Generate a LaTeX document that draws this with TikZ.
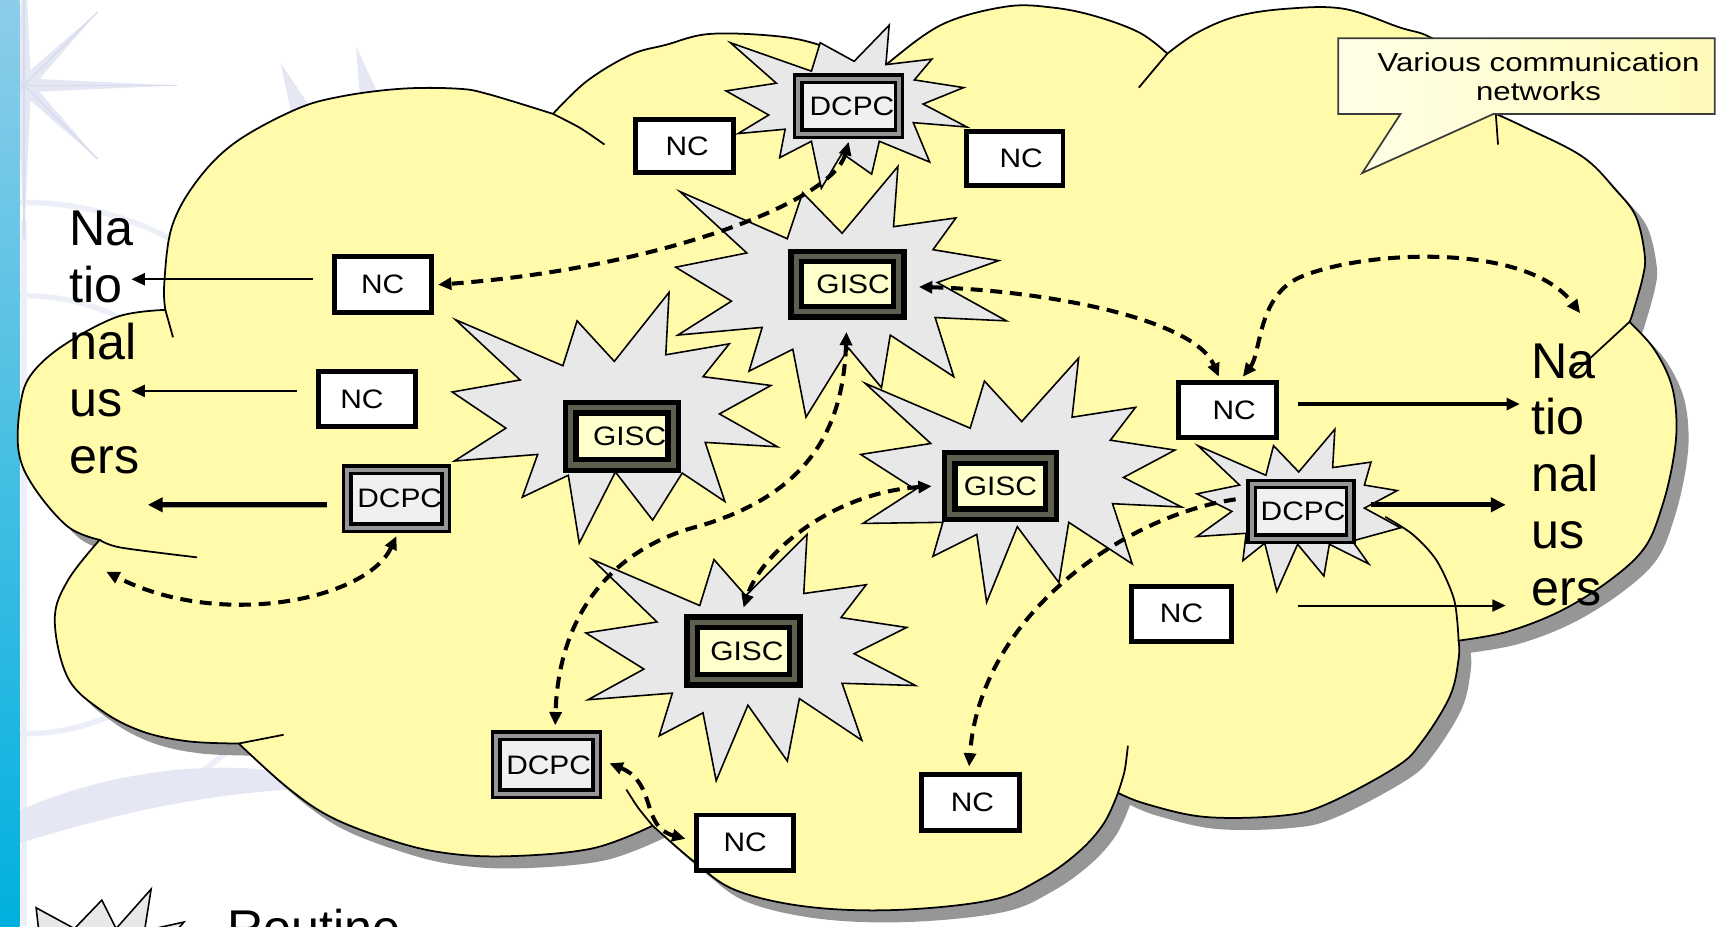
\documentclass[tikz,border=0pt]{standalone}
\usepackage{fontspec}
\setmainfont{Liberation Sans}
\usepackage{graphicx}
\usetikzlibrary{arrows.meta}

\newlength\pxu
\setlength\pxu{0.01095cm}

\definecolor{cloudfill}{RGB}{255,251,170}
\definecolor{cloudshadow}{RGB}{150,150,150}
\definecolor{burst}{RGB}{232,232,232}
\definecolor{dcpcfill}{RGB}{240,240,240}
\definecolor{dcpcgap}{RGB}{150,150,150}
\definecolor{giscfill}{RGB}{255,255,204}
\definecolor{giscgap}{RGB}{95,95,80}
\definecolor{noteL}{RGB}{255,255,232}
\definecolor{noteR}{RGB}{255,250,185}
\definecolor{noteEdge}{RGB}{60,60,60}
\definecolor{lav}{RGB}{229,232,244}
\definecolor{lavline}{RGB}{214,219,237}
\definecolor{globe}{RGB}{236,239,247}
\definecolor{stripTop}{RGB}{140,205,232}
\definecolor{stripMid}{RGB}{215,240,250}
\definecolor{stripBot}{RGB}{0,176,222}

\newcommand\boxfont{\fontsize{7.6pt}{9pt}\selectfont}
\newcommand\bigfont{\fontsize{14.3pt}{16.2pt}\selectfont}
\newcommand\notefont{\fontsize{7.4pt}{8.1pt}\selectfont}
\newcommand\wide[1]{\scalebox{1.12}[1]{#1}}

\tikzset{
  cloudpath/.style={insert path={
    (151,283)
    -- plot[smooth,tension=0.6] coordinates {(151,283) (150,259) (157,207) (180,165) (215,130) (270,100) (312,88) (367,81) (418,81) (446,86) (505,104)}
    -- plot[smooth,tension=0.6] coordinates {(505,104) (536,74) (576,50) (608,41) (648,31) (709,33) (748,41) (776,55) (805,66)}
    -- plot[smooth,tension=0.6] coordinates {(805,66) (813,56) (861,22) (919,6) (962,7) (1001,15) (1041,30) (1066,49)}
    -- plot[smooth,tension=0.6] coordinates {(1066,49) (1093,30) (1129,15) (1175,8) (1227,8) (1278,25) (1306,34) (1340,58) (1366,104)}
    -- plot[smooth,tension=0.6] coordinates {(1366,104) (1392,116) (1445,143) (1476,174) (1494,198) (1502,233) (1500,254) (1491,286) (1488,294)}
    -- plot[smooth,tension=0.6] coordinates {(1488,294) (1510,318) (1526,350) (1531,385) (1528,420) (1518,462) (1502,500) (1470,530) (1425,558) (1376,577) (1332,585)}
    -- plot[smooth,tension=0.6] coordinates {(1332,585) (1332,602) (1324,636) (1298,678) (1274,701) (1210,735) (1169,745) (1100,746) (1046,734) (1021,724)}
    -- plot[smooth,tension=0.6] coordinates {(1021,724) (1008,752) (985,778) (950,803) (905,822) (818,831) (737,828) (672,813) (634,787) (596,754)}
    -- plot[smooth,tension=0.6] coordinates {(596,754) (540,775) (460,782) (400,778) (350,765) (300,745) (261,718) (218,679)}
    -- plot[smooth,tension=0.6] coordinates {(218,679) (172,677) (130,668) (93,649) (62,619) (50,566) (62,530) (91,493)}
    -- plot[smooth,tension=0.6] coordinates {(91,493) (62,481) (31,445) (17,412) (19,367) (30,340) (60,314) (108,289) (151,283)}
    -- cycle}},
  cloudline/.style={draw=black, line width=0.5pt},
  burststyle/.style={fill=burst, draw=black, line width=0.45pt, line join=miter},
  ncbox/.style={draw=black, line width=1.4pt, fill=white, inner sep=0pt, font=\boxfont},
  dcpcbox/.style={draw=black, line width=1pt, double=dcpcgap, double distance=1.1pt,
    fill=dcpcfill, inner sep=0pt, font=\boxfont},
  giscbox/.style={draw=black, line width=1.5pt, double=giscgap, double distance=1.5pt,
    fill=giscfill, inner sep=0pt, font=\boxfont},
  bigtext/.style={font=\bigfont, align=left, inner sep=0pt},
  tipA/.tip={Triangle[length=3.8pt,width=3.4pt]},
  userthin/.style={line width=0.6pt, -tipA},
  usermed/.style={line width=0.9pt, -tipA},
  userthick/.style={line width=1.5pt, -{Triangle[length=4.2pt,width=4pt]}},
  feedline/.style={line width=1.15pt, dash pattern=on 3.4pt off 2.2pt, -tipA},
  feedboth/.style={line width=1.15pt, dash pattern=on 3.4pt off 2.2pt, tipA-tipA},
}

\begin{document}
\begin{tikzpicture}[x=0.01095cm, y=-0.01095cm]
\useasboundingbox (0,0) rectangle (1568,846);
\clip (0,0) rectangle (1568,846);
\fill[white] (0,0) rectangle (1568,846);

% faint background ornament: compass rose, globe lines, swoosh
\draw[globe, line width=5\pxu] (22,470) circle[radius=285];
\draw[globe, line width=5\pxu] (22,470) circle[radius=200];
\draw[globe, line width=5\pxu] (22,200) -- (22,846);
\begin{scope}[shift={(22,78)}]
  \fill[lav] (0:140) -- (22.5:15) -- (45:95) -- (67.5:15) -- (90:140) -- (112.5:15)
    -- (135:95) -- (157.5:15) -- (180:140) -- (202.5:15) -- (225:95) -- (247.5:15)
    -- (270:140) -- (292.5:15) -- (315:95) -- (337.5:15) -- cycle;
  \foreach \a/\r in {0/140,45/95,90/140,135/95,180/140,225/95,270/140,315/95}
    \draw[lavline, line width=0.4pt] (0,0) -- (\a:\r);
\end{scope}
\fill[lav] (256,57) -- (290,108) -- (268,112) -- cycle;
\fill[lav] (325,42) -- (352,100) -- (330,104) -- cycle;
\fill[lav] (18,740) .. controls (120,695) and (240,690) .. (320,720)
  .. controls (220,718) and (120,738) .. (18,770) -- cycle;

% side strip
\shade[top color=stripTop, middle color=stripMid, bottom color=stripBot] (0,0) rectangle (18,846);

% cloud with its shadow
\fill[cloudshadow, shift={(11,11)}, cloudpath];
\filldraw[fill=cloudfill, cloudline, cloudpath];
% inner lobe edges
\draw[cloudline] (151,283) -- (158,308);
\draw[cloudline] plot[smooth] coordinates {(505,104) (530,117) (552,132)};
\draw[cloudline] (1066,49) -- (1040,80);
\draw[cloudline] (1366,104) -- (1368,132);
\draw[cloudline] plot[smooth] coordinates {(1488,294) (1462,318) (1436,342)};
\draw[cloudline] plot[smooth] coordinates {(1332,585) (1328,548) (1312,512) (1290,488) (1265,472)};
\draw[cloudline] plot[smooth] coordinates {(1021,724) (1027,704) (1030,681)};
\draw[cloudline] plot[smooth] coordinates {(596,754) (583,738) (572,721)};
\draw[cloudline] plot[smooth] coordinates {(91,493) (110,500) (180,509)};
\draw[cloudline] (218,679) -- (259,671);

% bursts behind the centres
\filldraw[burststyle] (416,292) -- (514,334) -- (527,293) -- (561,330) -- (611,267) -- (608,324)
  -- (666,314) -- (642,344) -- (704,352) -- (657,378) -- (710,408) -- (644,404) -- (662,458)
  -- (623,432) -- (596,475) -- (562,431) -- (529,496) -- (519,434) -- (477,454) -- (491,415)
  -- (415,421) -- (462,391) -- (413,358) -- (475,347) -- cycle;
\filldraw[burststyle] (621,175) -- (719,218) -- (733,176) -- (769,213) -- (820,152) -- (816,207)
  -- (873,199) -- (852,228) -- (912,238) -- (856,258) -- (919,293) -- (854,290) -- (871,344)
  -- (813,306) -- (805,354) -- (775,318) -- (736,381) -- (724,319) -- (684,339) -- (696,299)
  -- (619,306) -- (668,275) -- (617,244) -- (682,231) -- cycle;
\filldraw[burststyle] (790,350) -- (886,391) -- (899,348) -- (933,385) -- (985,327) -- (979,381)
  -- (1037,372) -- (1014,402) -- (1073,411) -- (1026,436) -- (1079,463) -- (1016,460) -- (1034,515)
  -- (976,477) -- (967,532) -- (929,481) -- (901,550) -- (892,488) -- (852,508) -- (861,477)
  -- (788,478) -- (836,447) -- (786,415) -- (850,405) -- cycle;
\filldraw[burststyle] (541,511) -- (639,553) -- (652,511) -- (681,544) -- (737,488) -- (734,542)
  -- (791,534) -- (768,564) -- (828,573) -- (780,597) -- (836,626) -- (769,624) -- (787,676)
  -- (730,638) -- (719,695) -- (683,644) -- (654,713) -- (642,651) -- (602,672) -- (614,633)
  -- (537,639) -- (588,611) -- (535,578) -- (600,568) -- cycle;
\filldraw[burststyle] (667,39) -- (709,76) -- (663,83) -- (702,105) -- (674,122) -- (717,118)
  -- (712,144) -- (741,129) -- (750,172) -- (769,140) -- (796,159) -- (803,129) -- (849,148)
  -- (834,112) -- (883,116) -- (843,95) -- (880,80) -- (835,73) -- (851,54) -- (809,59)
  -- (812,23) -- (780,56) -- (749,39) -- (741,65) -- cycle;
\filldraw[burststyle] (1094,407) -- (1132,443) -- (1093,451) -- (1125,467) -- (1093,490)
  -- (1138,487) -- (1135,512) -- (1155,496) -- (1166,540) -- (1185,497) -- (1209,526)
  -- (1214,497) -- (1250,515) -- (1235,494) -- (1279,482) -- (1246,464) -- (1276,448)
  -- (1246,443) -- (1252,422) -- (1217,427) -- (1219,392) -- (1186,431) -- (1163,407)
  -- (1156,434) -- cycle;

% callout
\shadedraw[left color=noteL, right color=noteR, draw=noteEdge, line width=0.5pt]
  (1222,35) -- (1566,35) -- (1566,104) -- (1364,104) -- (1244,158) -- (1279,104)
  -- (1222,104) -- cycle;
\node[font=\notefont, align=center, inner sep=0pt] (note) at (1405,70)
  {\scalebox{1.2}[1]{Various communication}\\\scalebox{1.2}[1]{networks}};

% centres
\node[dcpcbox, minimum width=92\pxu, minimum height=50\pxu] (d1) at (775,97) {\hspace*{6\pxu}\wide{DCPC}};
\node[dcpcbox, minimum width=90\pxu, minimum height=53\pxu] (d2) at (362,455.5) {\hspace*{6\pxu}\wide{DCPC}};
\node[dcpcbox, minimum width=90\pxu, minimum height=50\pxu] (d3) at (1188,467) {\hspace*{4\pxu}\wide{DCPC}};
\node[dcpcbox, minimum width=92\pxu, minimum height=53\pxu] (d4) at (499,698.5) {\hspace*{4\pxu}\wide{DCPC}};

\node[giscbox, minimum width=93.5\pxu, minimum height=50.5\pxu] (g1) at (774,259.5) {\hspace*{10\pxu}\wide{GISC}};
\node[giscbox, minimum width=93.5\pxu, minimum height=52.5\pxu] (g2) at (568,398.5) {\hspace*{14\pxu}\wide{GISC}};
\node[giscbox, minimum width=92.5\pxu, minimum height=51.5\pxu] (g3) at (913.5,444) {\wide{GISC}};
\node[giscbox, minimum width=93.5\pxu, minimum height=52.5\pxu] (g4) at (679,594.5) {\hspace*{6\pxu}\wide{GISC}};

\node[ncbox, minimum width=89.5\pxu, minimum height=48.5\pxu] (nc1) at (625,133.5) {\hspace*{5\pxu}\wide{NC}};
\node[ncbox, minimum width=88.5\pxu, minimum height=49.5\pxu] (nc2) at (926.5,145) {\hspace*{12\pxu}\wide{NC}};
\node[ncbox, minimum width=88.5\pxu, minimum height=51.5\pxu] (nc3) at (349.5,260) {\wide{NC}};
\node[ncbox, minimum width=88.5\pxu, minimum height=50.5\pxu] (nc4) at (335.5,364.5) {\hspace*{-10\pxu}\wide{NC}};
\node[ncbox, minimum width=89.5\pxu, minimum height=50.5\pxu] (nc5) at (1121,374.5) {\hspace*{12\pxu}\wide{NC}};
\node[ncbox, minimum width=91.5\pxu, minimum height=50.5\pxu] (nc6) at (1079,560.5) {\wide{NC}};
\node[ncbox, minimum width=88.5\pxu, minimum height=50.5\pxu] (nc7) at (680.5,769.5) {\wide{NC}};
\node[ncbox, minimum width=89.5\pxu, minimum height=51.5\pxu] (nc8) at (886,733) {\hspace*{4\pxu}\wide{NC}};

% user groups
\node[bigtext, anchor=north west] (usersL) at (63,192) {Na\\tio\\nal\\us\\ers};
\node[bigtext, anchor=north west] (usersR) at (1398,313) {Na\\tio\\nal\\us\\ers};

\coordinate (ul1) at (120,255);
\coordinate (ul2) at (120,357);
\coordinate (ul3) at (135,461);
\coordinate (ul4) at (97,522);
\coordinate (ur1) at (1388,369);
\coordinate (ur2) at (1375,461);
\coordinate (ur3) at (1375,553);
\coordinate (ur4) at (1443,286);

% deliveries to national users
\draw[userthin] ([xshift=-17\pxu,yshift=5\pxu]nc3.west) -- (ul1);
\draw[userthin] ([xshift=-18\pxu,yshift=7.5\pxu]nc4.west) -- (ul2);
\draw[userthick] ([xshift=-17\pxu,yshift=-5.5\pxu]d2.west) -- (ul3);
\draw[usermed] ([xshift=17\pxu,yshift=5.5\pxu]nc5.east) -- (ur1);
\draw[userthick] ([xshift=17\pxu,yshift=6\pxu]d3.east) -- (ur2);
\draw[userthin] ([xshift=58\pxu,yshift=7.5\pxu]nc6.east) -- (ur3);

% data exchange between centres
\draw[feedboth] ([yshift=-6\pxu]d1.south) .. controls (760,185) and (600,245) .. ([xshift=4\pxu]nc3.east);
\draw[feedboth] ([xshift=16\pxu,yshift=-2.5\pxu]g1.east) .. controls (950,265) and (1090,290) .. ([xshift=-8\pxu,yshift=3\pxu]nc5.north);
\draw[feedboth] ([xshift=14\pxu,yshift=3\pxu]nc5.north) .. controls (1152,322) and (1148,268) .. (1190,252)
  .. controls (1250,228) and (1395,222) .. (ur4);
\draw[feedboth] ([xshift=-1\pxu,yshift=-16\pxu]g1.south) .. controls (770,390) and (740,450) .. (640,480)
  .. controls (560,500) and (510,560) .. ([xshift=8\pxu,yshift=8\pxu]d4.north);
\draw[feedboth] ([xshift=-14\pxu]g3.west) .. controls (760,450) and (695,505) .. ([yshift=11\pxu]g4.north);
\draw[feedline] ([xshift=-13\pxu,yshift=11\pxu]d3.west) .. controls (1030,470) and (895,560) .. ([xshift=-1\pxu,yshift=5\pxu]nc8.north);
\draw[feedboth] ([yshift=-6\pxu]d2.south) .. controls (335,548) and (200,575) .. (ul4);
\draw[feedboth] ([xshift=10\pxu,yshift=1.5\pxu]d4.east) .. controls (600,715) and (585,755) .. ([xshift=-8\pxu,yshift=3.5\pxu]nc7.west);

% legend, cut by the lower edge
\filldraw[burststyle] (40,890) -- (33,829) -- (68,848) -- (93,822) -- (106,848) -- (138,812)
  -- (132,850) -- (168,842) -- (140,875) -- cycle;
\node[font=\bigfont, anchor=base west, inner sep=0pt] (legend) at (207,863) {Routine};
\end{tikzpicture}
\end{document}
